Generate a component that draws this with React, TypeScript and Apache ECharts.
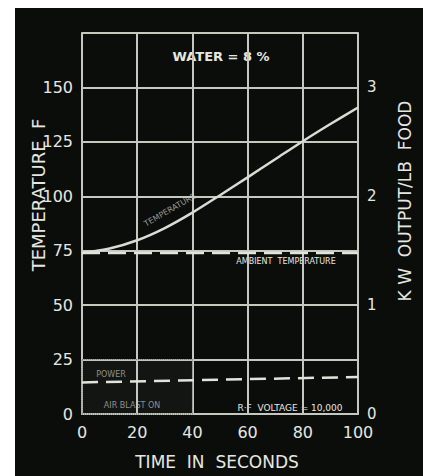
import React, { useEffect, useRef } from "react";
import * as echarts from "echarts";

const timeSeconds = [0, 10, 20, 30, 40, 50, 60, 70, 80, 90, 100];
const temperatureF = [74, 76, 79.8, 85.4, 92.5, 100.5, 108.7, 117, 125.3, 133.2, 140.8];
const ambientTime = [0, 100];
const ambientF = [74, 74];
const powerTime = [0, 100];
const powerKw = [0.29, 0.34];
const leftTicks = [0, 25, 50, 75, 100, 125, 150];
const rightTicks = [0, 1, 2, 3];
const xTicks = [0, 20, 40, 60, 80, 100];

const FG = "#e6e8e0";
const GRID = "#c4c8c0";
const FONT = "DejaVu Sans, sans-serif";

export default function App() {
  const ref = useRef<HTMLDivElement>(null);
  useEffect(() => {
    if (!ref.current) return;
    const chart = echarts.init(ref.current, null, { renderer: "svg" });
    chart.setOption({
      animation: false,
      backgroundColor: "#ffffff",
      graphic: [
        { type: "rect", z: -10, shape: { x: 15, y: 8, width: 408, height: 468 }, style: { fill: "#0b0d0b" } },
        { type: "text", x: 221, y: 56, style: { text: "WATER = 8 %", fill: FG, font: "bold 13px " + FONT, textAlign: "center", textVerticalAlign: "middle" } },
        { type: "text", x: 38, y: 195, rotation: Math.PI / 2, style: { text: "TEMPERATURE  F", fill: FG, font: "18px " + FONT, textAlign: "center", textVerticalAlign: "middle" } },
        { type: "text", x: 405, y: 201, rotation: Math.PI / 2, style: { text: "K W  OUTPUT/LB  FOOD", fill: FG, font: "17px " + FONT, textAlign: "center", textVerticalAlign: "middle" } },
        { type: "text", x: 217, y: 462, style: { text: "TIME  IN  SECONDS", fill: FG, font: "17px " + FONT, textAlign: "center", textVerticalAlign: "middle" } },
        { type: "text", x: 286, y: 261, style: { text: "AMBIENT  TEMPERATURE", fill: FG, font: "8px " + FONT, textAlign: "center", textVerticalAlign: "middle" } },
        { type: "text", x: 290, y: 408, style: { text: "R·F  VOLTAGE = 10,000", fill: FG, font: "9px " + FONT, textAlign: "center", textVerticalAlign: "middle" } },
        { type: "text", x: 111, y: 374, style: { text: "POWER", fill: "#8a8e86", font: "8px " + FONT, textAlign: "center", textVerticalAlign: "middle" } },
        { type: "text", x: 132, y: 405, style: { text: "AIR BLAST ON", fill: "#8a8e86", font: "8px " + FONT, textAlign: "center", textVerticalAlign: "middle" } },
        { type: "text", x: 170, y: 210, rotation: Math.PI / 6, style: { text: "TEMPERATURE", fill: "#9a9e96", font: "8px " + FONT, textAlign: "center", textVerticalAlign: "middle" } },
      ],
      grid: { left: 82, right: 65, top: 33, bottom: 62, show: false },
      xAxis: {
        type: "value", min: 0, max: 100, interval: 20,
        axisLine: { show: true, lineStyle: { color: GRID, width: 2 } },
        axisTick: { show: false },
        splitLine: { show: true, lineStyle: { color: GRID, width: 2 } },
        axisLabel: { color: FG, fontSize: 16, lineHeight: 16, fontFamily: FONT, margin: 10, formatter: (v: number) => (xTicks.includes(v) ? String(v) : "") },
      },
      yAxis: [
        {
          type: "value", min: 0, max: 175, interval: 25,
          axisLine: { show: true, lineStyle: { color: GRID, width: 2 } },
          axisTick: { show: false },
          splitLine: { show: true, lineStyle: { color: GRID, width: 2 } },
          axisLabel: { color: FG, fontSize: 16, fontFamily: FONT, margin: 9, formatter: (v: number) => (leftTicks.includes(v) ? String(v) : "") },
        },
        {
          type: "value", min: 0, max: 3.5, interval: 0.5, position: "right",
          axisLine: { show: true, lineStyle: { color: GRID, width: 2 } },
          axisTick: { show: false },
          splitLine: { show: false },
          axisLabel: { color: FG, fontSize: 15, lineHeight: 13, fontFamily: FONT, margin: 9, formatter: (v: number) => (rightTicks.includes(v) ? String(v) : "") },
        },
      ],
      series: [
        {
          type: "line", name: "Temperature", smooth: 0.3, symbol: "none",
          data: timeSeconds.map((t, i) => [t, temperatureF[i]]),
          lineStyle: { color: "#d8dcd2", width: 2.5 },
          markArea: {
            silent: true,
            itemStyle: { color: "rgba(255,255,255,0.035)", borderColor: "#6a6e66", borderWidth: 1, borderType: "dotted" },
            data: [[{ xAxis: 0, yAxis: 0 }, { xAxis: 40, yAxis: 25 }]],
          },
        },
        {
          type: "line", name: "Ambient", symbol: "none",
          data: ambientTime.map((t, i) => [t, ambientF[i]]),
          lineStyle: { color: "#e2e4dc", width: 2.5, type: [18, 8] },
        },
        {
          type: "line", name: "Power", symbol: "none", yAxisIndex: 1,
          data: powerTime.map((t, i) => [t, powerKw[i]]),
          lineStyle: { color: "#e2e4dc", width: 2.5, type: [16, 8] },
        },
      ],
    });
    return () => chart.dispose();
  }, []);
  return <div ref={ref} style={{ position: "fixed", left: 0, top: 0, width: 423, height: 476 }} />;
}
